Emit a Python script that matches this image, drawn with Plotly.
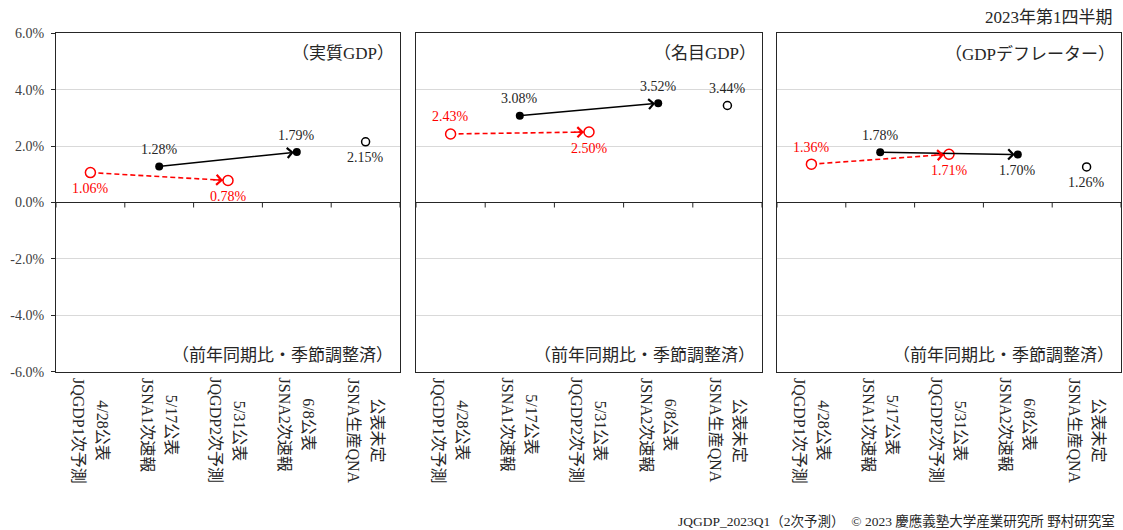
import plotly.graph_objects as go

# ---------------- data ----------------
release_dates = ["4/28公表", "5/17公表", "5/31公表", "6/8公表", "公表未定"]
release_names = ["JQGDP1次予測", "JSNA1次速報", "JQGDP2次予測", "JSNA2次速報", "JSNA生産QNA"]
panel_titles = ["（実質GDP）", "（名目GDP）", "（GDPデフレーター）"]
real_gdp = [1.06, 1.28, 0.78, 1.79, 2.15]
nominal_gdp = [2.43, 3.08, 2.50, 3.52, 3.44]
gdp_deflator = [1.36, 1.78, 1.71, 1.70, 1.26]
label_sides_real = ["below", "above", "below", "above", "below"]
label_sides_nominal = ["above", "above", "below", "above", "above"]
label_sides_deflator = ["above", "above", "below", "below", "below"]
y_tick_values = [-6, -4, -2, 0, 2, 4, 6]
y_tick_labels = ["-6.0%", "-4.0%", "-2.0%", "0.0%", "2.0%", "4.0%", "6.0%"]
header_text = "2023年第1四半期"
footer_text = "JQGDP_2023Q1（2次予測）　© 2023 慶應義塾大学産業研究所 野村研究室"
unit_note = "（前年同期比・季節調整済）"

series = [real_gdp, nominal_gdp, gdp_deflator]
sides = [label_sides_real, label_sides_nominal, label_sides_deflator]

# ---------------- styling ----------------
W, H = 1123, 530
SERIF = "Liberation Serif, Noto Sans CJK JP, serif"
RED = "#FF0000"
BLACK = "#000000"
TXT = "#262626"
FRAME = "#262626"
GRID = "#D9D9D9"
HIDE = "rgba(0,0,0,0)"

px_x = [(56, 400), (416, 762), (777, 1121)]
px_top, px_bottom = 33.3, 371.7
y_dom = [1 - px_bottom / H, 1 - px_top / H]

forecast_idx = [0, 2]
sna_idx = [1, 3]
qna_idx = [4]

fig = go.Figure()
annotations = []
shapes = []
xs = list(range(len(release_names)))

for k, vals in enumerate(series):
    n = k + 1
    xa = "x" if n == 1 else f"x{n}"
    ya = "y" if n == 1 else f"y{n}"

    # red dashed line forecast1 -> forecast2
    fig.add_trace(go.Scatter(
        x=[xs[i] for i in forecast_idx], y=[vals[i] for i in forecast_idx],
        mode="lines", line=dict(color=RED, width=1.6, dash="5px,3px"),
        xaxis=xa, yaxis=ya, showlegend=False, hoverinfo="skip"))
    # black solid arrow SNA1 -> SNA2
    a, b = sna_idx
    annotations.append(dict(
        x=xs[b], y=vals[b], ax=xs[a], ay=vals[a], xref=xa, yref=ya,
        axref=xa, ayref=ya, showarrow=True, arrowhead=4, arrowsize=1.3,
        arrowwidth=1.5, arrowcolor=BLACK, standoff=3, text=""))
    # red arrowhead (short solid stub at the end of the dashed line)
    a, b = forecast_idx
    frac = 0.12
    annotations.append(dict(
        x=xs[b], y=vals[b],
        ax=xs[b] - frac * (xs[b] - xs[a]), ay=vals[b] - frac * (vals[b] - vals[a]),
        xref=xa, yref=ya, axref=xa, ayref=ya, showarrow=True, arrowhead=4,
        arrowsize=1.3, arrowwidth=1.5, arrowcolor=RED, standoff=5, text=""))

    # markers
    fig.add_trace(go.Scatter(
        x=[xs[i] for i in sna_idx], y=[vals[i] for i in sna_idx], mode="markers",
        marker=dict(size=8, color=BLACK, line=dict(width=0)),
        xaxis=xa, yaxis=ya, showlegend=False, hoverinfo="skip"))
    fig.add_trace(go.Scatter(
        x=[xs[i] for i in qna_idx], y=[vals[i] for i in qna_idx], mode="markers",
        marker=dict(size=8, color="white", line=dict(width=1.5, color=BLACK)),
        xaxis=xa, yaxis=ya, showlegend=False, hoverinfo="skip"))
    fig.add_trace(go.Scatter(
        x=[xs[i] for i in forecast_idx], y=[vals[i] for i in forecast_idx], mode="markers",
        marker=dict(size=10, color="white", line=dict(width=1.5, color=RED)),
        xaxis=xa, yaxis=ya, showlegend=False, hoverinfo="skip"))

    # data labels
    for i, v in enumerate(vals):
        col = RED if i in forecast_idx else TXT
        annotations.append(dict(
            x=xs[i], y=v, xref=xa, yref=ya, text=f"{v:.2f}%", showarrow=False,
            yshift=17 if sides[k][i] == "above" else -16,
            font=dict(family=SERIF, size=14, color=col)))

    # category labels (vertical, two lines, centred; lines spread apart slightly)
    for i in xs:
        for shift, txt in (
            (1.6, f"{release_dates[i]}<br><span style='color:{HIDE}'>{release_names[i]}</span>"),
            (-1.6, f"<span style='color:{HIDE}'>{release_dates[i]}</span><br>{release_names[i]}"),
        ):
            annotations.append(dict(
                x=xs[i], y=y_dom[0], xref=xa, yref="paper", yanchor="top", xanchor="center",
                yshift=-4, xshift=shift, text=txt,
                textangle=90, align="center", showarrow=False,
                font=dict(family=SERIF, size=16, color=TXT)))

    # panel title and unit note
    annotations.append(dict(
        x=1, y=1, xref=f"{xa} domain", yref=f"{ya} domain", xanchor="right", yanchor="top",
        xshift=-4, yshift=-9, text=panel_titles[k], showarrow=False,
        font=dict(family=SERIF, size=17, color=TXT)))
    annotations.append(dict(
        x=1, y=0, xref=f"{xa} domain", yref=f"{ya} domain", xanchor="right", yanchor="bottom",
        xshift=-5, yshift=5, text=unit_note, showarrow=False,
        font=dict(family=SERIF, size=17, color=TXT)))

    # tick marks at category boundaries on the zero line
    for bnd in [x - 0.5 for x in xs] + [xs[-1] + 0.5]:
        shapes.append(dict(
            type="line", xref=xa, yref=ya, ysizemode="pixel", yanchor=0,
            x0=bnd, x1=bnd, y0=0, y1=-5, line=dict(color=FRAME, width=1)))

    xd = [px_x[k][0] / W, px_x[k][1] / W]
    fig.update_layout(**{
        ("xaxis" if n == 1 else f"xaxis{n}"): dict(
            domain=xd, range=[-0.5, len(xs) - 0.5], anchor=ya, automargin=False,
            showgrid=False, zeroline=False, showticklabels=False, ticks="",
            showline=True, mirror=True, linecolor=FRAME, linewidth=1, fixedrange=True),
        ("yaxis" if n == 1 else f"yaxis{n}"): dict(
            domain=y_dom, range=[-6, 6], anchor=xa, automargin=False,
            tickvals=y_tick_values, ticktext=y_tick_labels,
            showticklabels=(n == 1), ticks="outside" if n == 1 else "",
            ticklen=4, tickcolor=FRAME, ticklabelstandoff=4,
            tickfont=dict(family=SERIF, size=14, color="#404040"),
            showgrid=True, gridcolor=GRID, gridwidth=1,
            zeroline=True, zerolinecolor=FRAME, zerolinewidth=1,
            showline=True, mirror=True, linecolor=FRAME, linewidth=1, fixedrange=True),
    })

annotations.append(dict(
    x=1115 / W, y=1 - 18 / H, xref="paper", yref="paper", xanchor="right", yanchor="middle",
    text=header_text, showarrow=False, font=dict(family=SERIF, size=17, color=TXT)))
annotations.append(dict(
    x=1117 / W, y=1 - 521 / H, xref="paper", yref="paper", xanchor="right", yanchor="middle",
    text=footer_text, showarrow=False, font=dict(family=SERIF, size=13.5, color=TXT)))

fig.update_layout(
    width=W, height=H, margin=dict(l=0, r=0, t=0, b=0, pad=0, autoexpand=False),
    paper_bgcolor="white", plot_bgcolor="white",
    annotations=annotations, shapes=shapes, showlegend=False,
)

fig.write_html(
    "out.html",
    config={"displayModeBar": False},
    post_script="document.body.style.margin='0px';document.body.style.overflow='hidden';",
)
